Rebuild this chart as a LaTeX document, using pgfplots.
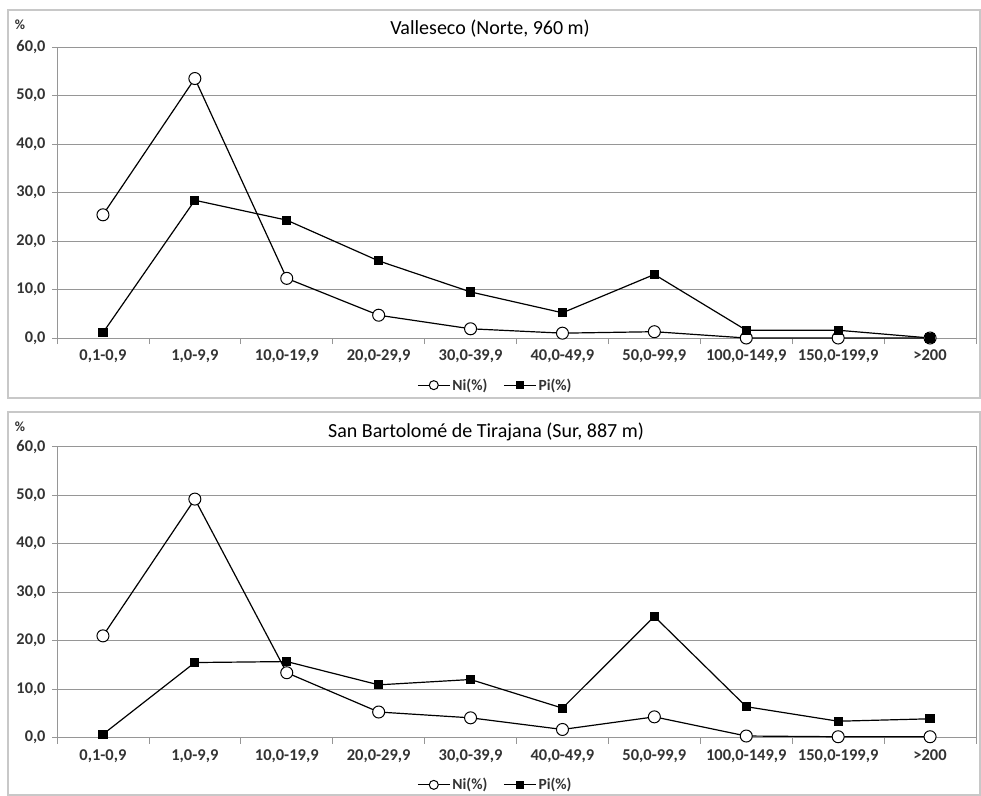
\documentclass[border=0pt]{standalone}
\usepackage{pgfplots}
\pgfplotsset{compat=1.18}
\usepackage{fontspec}
\setmainfont{Carlito}
\definecolor{axgray}{RGB}{150,150,150}
\definecolor{framegray}{RGB}{200,200,200}
\newcommand{\lgf}{\fontsize{15.5bp}{17bp}\selectfont\bfseries\color{black!80}}
\pgfplotsset{myax/.style={
  width=919bp, height=291bp, scale only axis,
  xmin=-0.5, xmax=9.5, ymin=0, ymax=60,
  ytick={0,10,...,60},
  xtick={0,...,9},
  xticklabels={{0,1-0,9},{1,0-9,9},{10,0-19,9},{20,0-29,9},{30,0-39,9},{40,0-49,9},{50,0-99,9},{100,0-149,9},{150,0-199,9},{>200}},
  minor xtick={-0.5,0.5,1.5,2.5,3.5,4.5,5.5,6.5,7.5,8.5,9.5},
  tick pos=left,
  major x tick style={draw=none},
  minor x tick style={axgray, line width=0.8bp},
  major y tick style={axgray, line width=0.8bp},
  tick align=outside,
  major tick length=5bp, minor tick length=6bp,
  ymajorgrids, major grid style={axgray, line width=0.9bp},
  axis line style={axgray, line width=0.9bp},
  /pgf/number format/.cd, fixed, fixed zerofill, precision=1, use comma, assume math mode=true,
  /pgfplots/.cd,
  yticklabel style={font=\fontsize{16.3bp}{18bp}\selectfont\bfseries, text=black!80, xshift=-3bp},
  xticklabel style={font=\fontsize{16.5bp}{18bp}\selectfont\bfseries, text=black!80, yshift=-3bp},
  legend style={at={(0.477,-0.162)}, anchor=center, draw=none, fill=none,
    legend columns=2,
    /tikz/every even column/.append style={column sep=14bp}},
  ni/.style={black, line width=1.2bp, mark=*, mark size=6bp, mark options={fill=white, draw=black, line width=1bp},
    legend image code/.code={\draw[mark repeat=2,mark phase=2,##1, mark size=4.5bp] plot coordinates {(0bp,0bp) (16bp,0bp) (32bp,0bp)};}},
  pi/.style={black, line width=1.2bp, mark=square*, mark size=4bp, mark options={fill=black},
    legend image code/.code={\draw[mark repeat=2,mark phase=2,##1, mark size=3.5bp] plot coordinates {(0bp,0bp) (16bp,0bp) (32bp,0bp)};}},
}}
\begin{document}
\begin{tikzpicture}[x=1bp,y=1bp]
\path[use as bounding box] (0,0) rectangle (981,-796);
\draw[framegray, line width=1.5bp] (8,-10) rectangle (980,-398);
\draw[framegray, line width=1.5bp] (8,-412) rectangle (980,-795);
\node[font=\fontsize{14bp}{16bp}\selectfont\bfseries, text=black!80] at (20,-25) {\%};
\node[font=\fontsize{20bp}{22bp}\selectfont] at (490,-29) {Valleseco (Norte, 960 m)};
\node[font=\fontsize{14bp}{16bp}\selectfont\bfseries, text=black!80] at (20,-427) {\%};
\node[font=\fontsize{20bp}{22bp}\selectfont] at (486,-432) {San Bartolomé de Tirajana (Sur, 887 m)};
\begin{axis}[myax, at={(57bp,-338bp)}, anchor=south west]
\addplot[ni] coordinates {(0,25.4) (1,53.5) (2,12.3) (3,4.7) (4,1.9) (5,1.0) (6,1.3) (7,0.0) (8,0.0) (9,0.0)};
\addlegendentry{\lgf Ni(\%)}
\addplot[pi] coordinates {(0,1.1) (1,28.4) (2,24.3) (3,15.9) (4,9.5) (5,5.2) (6,13.1) (7,1.6) (8,1.6) (9,0.0)};
\addlegendentry{\lgf Pi(\%)}
\end{axis}
\begin{axis}[myax, at={(57bp,-737.7bp)}, anchor=south west]
\addplot[ni] coordinates {(0,21.0) (1,49.2) (2,13.4) (3,5.3) (4,4.1) (5,1.7) (6,4.3) (7,0.35) (8,0.2) (9,0.2)};
\addlegendentry{\lgf Ni(\%)}
\addplot[pi] coordinates {(0,0.7) (1,15.5) (2,15.7) (3,10.9) (4,12.0) (5,6.1) (6,25.0) (7,6.4) (8,3.4) (9,3.9)};
\addlegendentry{\lgf Pi(\%)}
\end{axis}
\end{tikzpicture}
\end{document}
